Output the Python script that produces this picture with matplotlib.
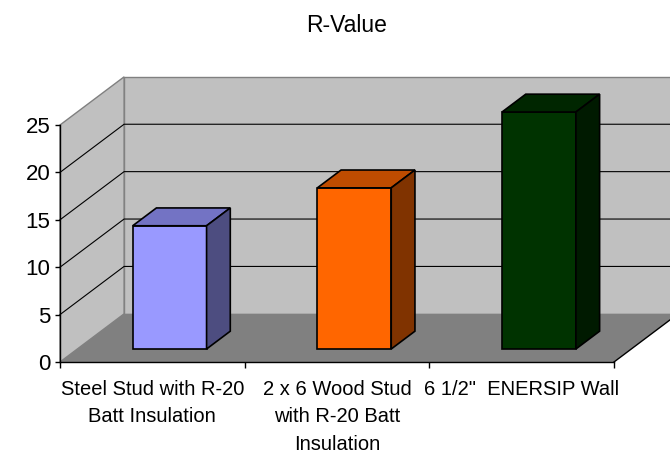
import matplotlib
matplotlib.use('Agg')
import matplotlib.pyplot as plt
from matplotlib.patches import Polygon

plt.rcParams['font.family'] = ['Liberation Sans', 'DejaVu Sans']

title = 'R-Value'
categories = ['Steel Stud with R-20\nBatt Insulation',
              '2 x 6 Wood Stud\nwith R-20 Batt\nInsulation',
              '6 1/2"  ENERSIP Wall']
r_values = [13, 17, 25]
y_ticks = [0, 5, 10, 15, 20, 25]

front_colors = ['#9999FF', '#FF6600', '#003300']
top_colors = ['#7373C4', '#BF4C00', '#002600']
side_colors = ['#4D4D80', '#803300', '#001A00']

# oblique offset of the full depth (x in category units, y in value units)
dx, dy = 0.347, 5.08
bar_front, bar_back = 0.27, 0.64
bar_width = 0.4
ymax = 25
n = len(categories)

fig = plt.figure(figsize=(6.7, 4.54), dpi=100)
ax = fig.add_axes([60 / 670, 92 / 454, 554 / 670, 237 / 454])
ax.set_xlim(0, n)
ax.set_ylim(0, ymax)

def add(pts, fc, ec='none', lw=0, z=1):
    ax.add_patch(Polygon(pts, closed=True, facecolor=fc, edgecolor=ec,
                         linewidth=lw, clip_on=False, zorder=z))

# walls and floor
add([(dx, dy), (dx, ymax + dy), (n + dx, ymax + dy), (n + dx, dy)], '#C0C0C0', '#808080', 1)
add([(0, 0), (0, ymax), (dx, ymax + dy), (dx, dy)], '#C0C0C0', '#808080', 1)
add([(0, 0), (n, 0), (n + dx, dy), (dx, dy)], '#808080')
ax.plot([n, n + dx], [0, dy], color='black', lw=1, clip_on=False, zorder=2)

for v in y_ticks[1:-1]:
    ax.plot([0, dx, n + dx], [v, v + dy, v + dy], color='black', lw=0.8,
            clip_on=False, zorder=2)

# bars
for i, val in enumerate(r_values):
    x0 = i + 0.5 - bar_width / 2
    x1 = x0 + bar_width
    fx, fy = bar_front * dx, bar_front * dy
    bx, by = bar_back * dx, bar_back * dy
    ec = 'black'
    add([(x0 + fx, fy), (x1 + fx, fy), (x1 + fx, val + fy), (x0 + fx, val + fy)],
        front_colors[i], ec, 1.2, 3)
    add([(x0 + fx, val + fy), (x1 + fx, val + fy), (x1 + bx, val + by), (x0 + bx, val + by)],
        top_colors[i], ec, 1.2, 3)
    add([(x1 + fx, fy), (x1 + bx, by), (x1 + bx, val + by), (x1 + fx, val + fy)],
        side_colors[i], ec, 1.2, 3)

for s in ['top', 'right']:
    ax.spines[s].set_visible(False)
for s in ['left', 'bottom']:
    ax.spines[s].set_color('black')
    ax.spines[s].set_linewidth(1)
    ax.spines[s].set_zorder(4)
ax.set_facecolor('none')

ax.set_yticks(y_ticks)
ax.tick_params(axis='y', direction='out', length=3.6, width=1, pad=3.5, labelsize=16)
ax.set_xticks(range(n + 1))
ax.set_xticklabels([''] * (n + 1))
ax.tick_params(axis='x', which='major', direction='out', length=4.5, width=1)
ax.set_xticks([i + 0.5 for i in range(n)], minor=True)
ax.set_xticklabels(categories, minor=True, fontsize=14.5, linespacing=1.55)
ax.tick_params(axis='x', which='minor', length=0, pad=13)

fig.text(347 / 670, 1 - 32 / 454, title, ha='center', va='baseline', fontsize=16.5)

fig.savefig('out.png', dpi=100)
